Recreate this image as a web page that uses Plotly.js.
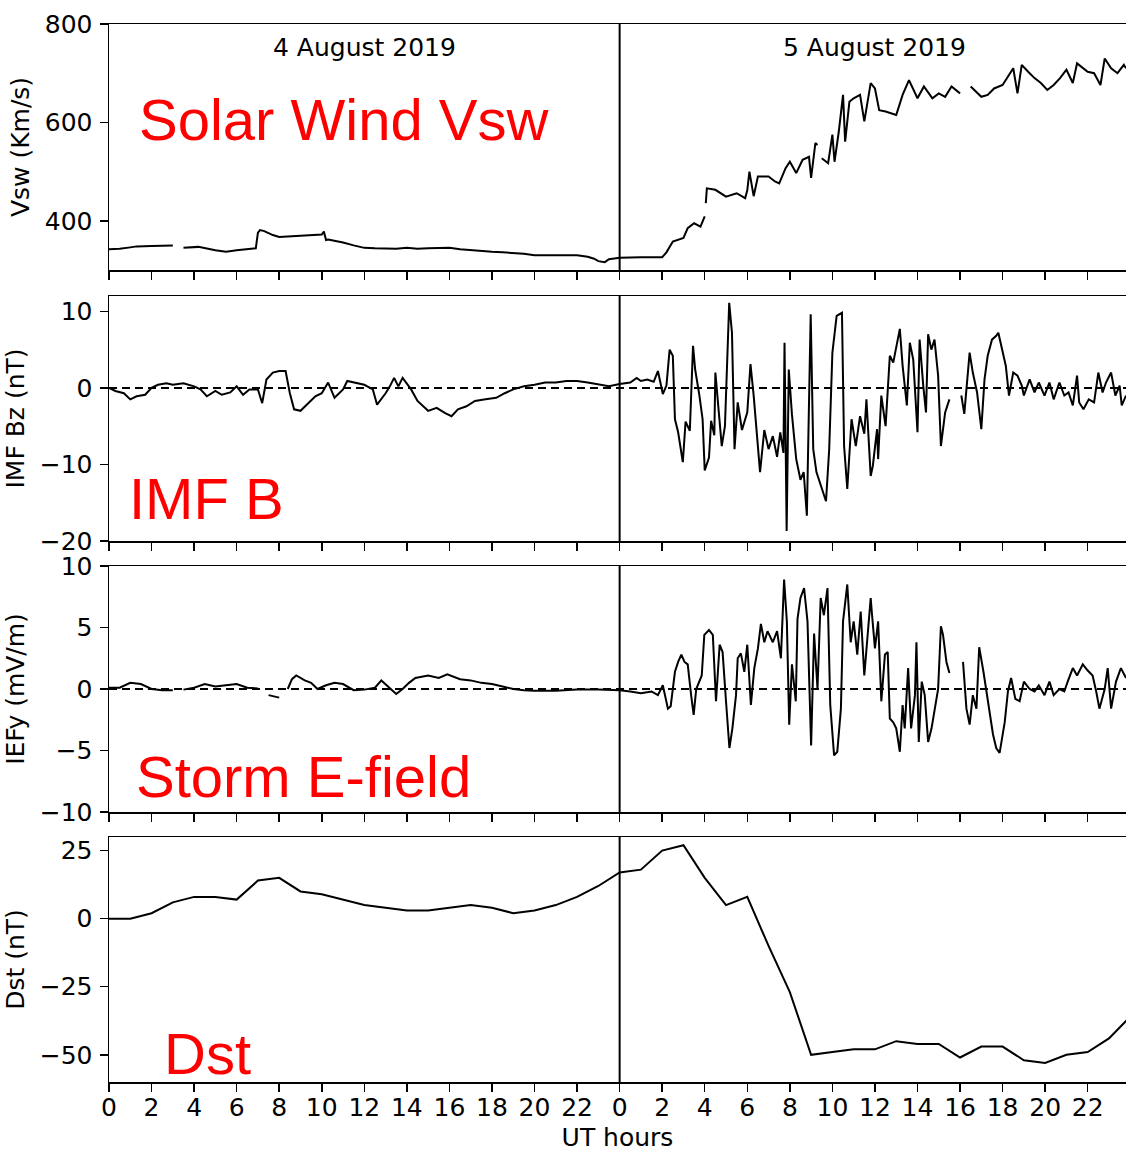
<!DOCTYPE html>
<html>
<head>
<meta charset="utf-8">
<script src="https://cdn.plot.ly/plotly-3.0.1.min.js"></script>
<style>
  html, body { margin: 0; padding: 0; background: #fff; }
  #chart { width: 1126px; height: 1152px; }
</style>
</head>
<body>
<div id="chart"></div>
<script>
// ---------------- DATA (hours since 4 Aug 2019 00 UT) ----------------
const hourTickValues = [0,2,4,6,8,10,12,14,16,18,20,22,24,26,28,30,32,34,36,38,40,42,44,46];
const hourTickLabels = ["0","2","4","6","8","10","12","14","16","18","20","22","0","2","4","6","8","10","12","14","16","18","20","22"];
const dayBoundary = 24;
const dayLabels = ["4 August 2019", "5 August 2019"];
const dayLabelHours = [12, 36];

// Solar wind speed (km/s)
const vswTime = [
  0,0.5,1.0,1.3,2.0,2.5,3.0,3.2,3.5,4.2,5.0,5.5,6.0,6.5,6.9,7.0,7.1,7.3,7.7,8.0,8.5,9.0,9.5,10.0,10.1,10.2,10.3,11.0,11.5,12.0,12.5,13.0,13.5,14.0,14.5,15.0,15.5,16.0,16.5,17.0,17.5,18.0,18.5,19.0,19.5,20.0,21.0,22.0,22.5,22.8,23.0,23.3,23.5,24.0,
  25.0,26.0,26.2,26.5,27.0,27.2,27.5,27.8,28.0,28.02,28.05,28.1,28.5,29.0,29.5,29.9,30.0,30.1,30.3,30.5,31.0,31.3,31.5,31.8,32.0,32.3,32.6,32.9,33.0,33.2,33.3,33.4,33.5,33.8,34.0,34.1,34.3,34.5,34.6,34.8,35.0,35.3,35.5,35.8,36.0,36.2,36.5,37.0,37.3,37.6,38.0,38.3,38.7,39.0,39.3,39.6,40.0,40.2,40.5,41.0,41.3,41.6,42.0,42.3,42.5,42.7,42.9,43.2,43.5,43.8,44.1,44.4,44.7,45.0,45.3,45.5,45.8,46.0,46.3,46.6,46.8,47.1,47.4,47.7,47.8
];
const vswValues = [
  342,343,346,348,349,350,350,null,345,347,340,337,340,342,344,376,381,379,371,367,368,369,370,372,378,361,362,356,350,345,344,344,343,345,343,344,344,345,342,340,338,337,336,335,333,330,330,330,327,323,318,316,322,325,
  326,326,336,358,365,385,395,388,409,null,436,466,463,449,456,446,462,500,450,490,490,480,476,507,520,497,524,530,487,558,554,null,527,517,575,520,581,656,561,642,649,656,602,680,669,625,622,615,656,686,649,673,649,659,652,673,659,null,673,652,656,669,676,696,710,659,717,703,690,680,666,676,690,707,680,720,710,703,700,676,730,710,700,717,710
];

// IMF Bz (nT)
const bzTime = [
  0,0.3,0.7,1.0,1.3,1.7,2.0,2.3,2.7,3.0,3.5,4.0,4.3,4.6,5.0,5.3,5.7,6.0,6.3,6.6,7.0,7.2,7.4,7.7,8.0,8.3,8.5,8.7,9.0,9.3,9.7,10.0,10.3,10.6,11.0,11.2,11.6,12.0,12.4,12.6,13.0,13.2,13.4,13.6,13.8,14.2,14.5,15.0,15.4,15.8,16.1,16.4,16.8,17.2,17.7,18.2,18.6,19.0,19.5,20.0,20.5,21.0,21.5,22.0,22.5,23.0,23.5,24.0,
  24.5,24.8,25.0,25.3,25.6,25.8,26.03,26.2,26.35,26.5,26.6,26.75,26.97,27.1,27.3,27.45,27.55,27.75,27.9,28.0,28.2,28.3,28.45,28.5,28.65,28.8,28.95,29.15,29.28,29.4,29.55,29.75,30.0,30.15,30.3,30.45,30.6,30.8,31.0,31.2,31.4,31.55,31.7,31.75,31.85,31.95,32.1,32.3,32.5,32.65,32.8,32.98,33.1,33.25,33.5,33.7,33.85,34.0,34.2,34.45,34.55,34.7,34.9,35.1,35.3,35.5,35.6,35.8,35.9,36.1,36.15,36.3,36.5,36.7,36.86,37.0,37.17,37.3,37.5,37.64,37.8,38.0,38.1,38.27,38.4,38.5,38.65,38.8,38.97,39.1,39.3,39.5,39.8,40.06,40.2,40.45,40.6,40.8,41.0,41.15,41.3,41.5,41.7,41.8,42.0,42.15,42.3,42.5,42.7,42.9,43.0,43.27,43.5,43.7,43.97,44.2,44.4,44.67,44.9,45.1,45.3,45.5,45.6,45.8,46.05,46.3,46.5,46.7,46.86,47.1,47.3,47.5,47.6,47.8
];
const bzValues = [
  0,-0.4,-0.7,-1.5,-1.1,-0.9,0,0.4,0.6,0.4,0.6,0.2,-0.2,-1.1,-0.4,-0.9,-0.6,0.2,-0.9,-0.2,-0.2,-2.0,1.1,2.0,2.2,2.2,-0.7,-2.8,-3.0,-2.2,-1.1,-0.7,0.7,-1.3,-0.2,0.9,0.7,0.4,-0.2,-2.2,-0.7,0.2,1.3,0.2,1.3,-0.2,-1.7,-3.0,-2.6,-3.3,-3.7,-2.8,-2.4,-1.7,-1.5,-1.3,-0.7,-0.2,0.2,0.4,0.7,0.7,0.9,0.9,0.7,0.4,0.2,0.5,
  0.7,1.3,0.9,1.1,0.8,2.2,-0.8,0.3,5.0,4.2,-4.1,-5.8,-9.7,-4.4,-5.6,5.5,2.4,-1.0,-4.1,-10.8,-9.1,-4.3,-6.2,2.0,-3.2,-7.6,-5.0,11.1,7.2,-8.0,-1.9,-5.5,-3.2,3.1,-1.0,-5.5,-11.0,-5.5,-8.0,-6.3,-9.0,-5.8,-8.5,5.9,-18.7,2.4,-3.5,-9.3,-12.0,-11.0,-16.7,9.6,-8.0,-11.0,-13.0,-14.8,-8.0,4.6,9.4,9.8,-7.6,-13.2,-4.1,-7.6,-3.7,-6.0,-1.5,-11.5,-10.2,-5.4,-9.3,-1.0,-5.0,4.2,3.3,5.5,7.7,2.9,-2.3,5.9,3.7,-5.8,6.3,0.3,-3.2,7.0,5.0,6.3,1.6,-7.6,-3.2,-1.5,null,-1.0,-3.4,4.6,2.0,-0.6,-5.4,1.1,4.2,6.3,6.8,7.2,4.6,2.9,-1.0,2.0,1.6,0.3,-1.0,1.1,-0.6,0.7,-1.0,0.7,-1.5,0.7,-1.0,-0.6,-2.3,1.6,-1.9,-2.8,-1.5,-1.9,2.0,-0.6,0.7,2.0,-1.0,0.3,-2.3,-1.0
];

// Interplanetary electric field Ey (mV/m)
const eyTime = [
  0,0.5,1.0,1.5,2.0,2.5,3.0,3.2,3.5,4.0,4.5,5.0,5.5,6.0,6.5,7.0,7.3,7.5,8.0,8.1,8.4,8.6,8.8,9.2,9.5,9.8,10.2,10.6,11.0,11.5,12.0,12.5,12.8,13.0,13.3,13.5,13.8,14.1,14.4,15.0,15.5,15.9,16.5,17.0,17.5,18.0,18.5,19.0,19.5,20.0,21.0,22.0,23.0,24.0,
  24.5,25.0,25.5,25.8,26.03,26.27,26.4,26.6,26.75,26.9,27.05,27.2,27.36,27.48,27.6,27.75,27.86,27.98,28.2,28.38,28.53,28.7,28.84,29.0,29.16,29.3,29.47,29.55,29.7,29.86,30.0,30.17,30.33,30.5,30.64,30.8,30.95,31.2,31.4,31.58,31.73,31.86,31.97,32.1,32.28,32.36,32.5,32.67,32.83,33.0,33.14,33.3,33.45,33.6,33.77,33.9,34.08,34.23,34.4,34.5,34.7,34.86,35.0,35.17,35.33,35.5,35.64,35.8,35.85,36.0,36.15,36.3,36.47,36.6,36.7,36.86,37.0,37.17,37.3,37.4,37.56,37.7,37.88,37.95,38.06,38.2,38.34,38.5,38.66,38.8,38.97,39.1,39.2,39.36,39.5,39.8,40.14,40.3,40.45,40.6,40.77,40.9,41.1,41.23,41.4,41.55,41.7,41.86,42.1,42.25,42.4,42.6,42.8,43.0,43.27,43.5,43.7,43.97,44.2,44.4,44.67,44.9,45.06,45.3,45.5,45.77,46.0,46.23,46.4,46.55,46.8,46.94,47.1,47.33,47.56,47.8
];
const eyValues = [
  0.1,0.1,0.5,0.4,0,-0.1,-0.1,null,-0.05,0.1,0.4,0.2,0.3,0.4,0.1,0.05,null,-0.5,-0.7,null,0,0.8,1.1,0.7,0.5,0,0.3,0.5,0.4,-0.1,-0.05,0.1,0.7,0.4,-0.1,-0.4,0,0.5,0.9,1.1,0.9,1.2,0.8,0.7,0.5,0.4,0.2,0,-0.1,-0.15,-0.15,-0.05,-0.05,-0.1,
  -0.2,-0.35,-0.2,-0.5,0.3,-1.6,-1.4,1.4,2.2,2.8,2.2,2.0,-0.5,-2.1,0,0.6,1.1,4.4,4.8,4.4,-1.0,3.6,3.0,-1.0,-4.8,-3.2,-0.5,2.5,2.9,1.4,3.6,-1.3,1.7,3.3,5.3,3.8,4.7,3.8,4.7,2.5,8.9,5.5,-2.9,2.0,-1.0,5.7,7.4,8.2,5.5,-4.6,4.5,0,7.4,6.0,8.2,-1.3,-5.4,-5.1,-1.6,5.5,8.5,3.8,5.5,2.8,6.3,1.1,3.8,7.4,6.3,3.3,5.5,-1.0,2.8,3.0,-2.4,-2.7,-3.2,-5.1,-1.3,-3.2,1.7,-3.2,-0.5,3.8,-4.3,0.6,-0.5,-4.3,-3.2,-1.6,0,5.1,4.4,2.2,1.3,null,2.2,-1.6,-2.9,-0.5,-1.6,3.4,1.4,0,-2.1,-3.7,-4.8,-5.2,-2.7,-0.2,0.9,-0.8,-1.0,0.6,0,-0.2,0.3,-0.5,0.6,-0.5,0,-0.2,0.6,1.7,1.1,2.0,1.5,1.1,-0.2,-1.6,0,1.7,-1.6,0.6,1.7,0.9
];

// Dst index (nT), hourly
const dstTime = [0,1,2,3,4,5,6,7,8,9,10,11,12,13,14,15,16,17,18,19,20,21,22,23,24,25,26,27,28,29,30,31,32,33,34,35,36,37,38,39,40,41,42,43,44,45,46,47,48];
const dstValues = [0,0,2,6,8,8,7,14,15,10,9,7,5,4,3,3,4,5,4,2,3,5,8,12,17,18,25,27,15,5,8,-10,-27,-50,-49,-48,-48,-45,-46,-46,-51,-47,-47,-52,-53,-50,-49,-44,-36];

// Panel labels
const panelLabels = ["Solar Wind Vsw", "IMF B", "Storm E-field", "Dst"];
const yTitles = ["Vsw (Km/s)", "IMF Bz (nT)", "IEFy (mV/m)", "Dst (nT)"];
const xTitle = "UT hours";

// ---------------- LAYOUT ----------------
const W = 1126, H = 1152;
const ML = 109, MR = 0, MT = 0, MB = 0;
const py = p => 1 - p / H;                    // pixel row -> paper y
const px = p => (p - ML) / (W - ML - MR);     // pixel col -> paper x

const panels = [
  {top: 24,  bottom: 270, range: [300, 800], ticks: [400, 600, 800], zero: false},
  {top: 296, bottom: 541, range: [-20, 12],  ticks: [-20, -10, 0, 10], zero: true},
  {top: 566, bottom: 812, range: [-10, 10],  ticks: [-10, -5, 0, 5, 10], zero: true},
  {top: 837, bottom: 1082, range: [-60, 30], ticks: [-50, -25, 0, 25], zero: false}
];
const labelCenters = [119, 498, 776, 1053];
const labelLefts = [137, 127, 134, 162];

const FONT = "DejaVu Sans, Verdana, sans-serif";
const tickFont = {family: FONT, size: 25, color: "#000"};

const series = [[vswTime, vswValues], [bzTime, bzValues], [eyTime, eyValues], [dstTime, dstValues]];

const data = series.map((s, i) => ({
  x: s[0], y: s[1],
  type: "scatter", mode: "lines",
  connectgaps: false,
  line: {color: "#000", width: 2},
  xaxis: i === 0 ? "x" : "x" + (i + 1),
  yaxis: i === 0 ? "y" : "y" + (i + 1),
  hoverinfo: "skip",
  showlegend: false
}));

const layout = {
  width: W, height: H,
  margin: {l: ML, r: MR, t: MT, b: MB, pad: 0},
  paper_bgcolor: "#fff", plot_bgcolor: "#fff",
  font: {family: FONT, size: 25, color: "#000"},
  showlegend: false,
  shapes: [],
  annotations: []
};

panels.forEach((p, i) => {
  const k = i === 0 ? "" : String(i + 1);
  const isBottom = i === panels.length - 1;
  layout["xaxis" + k] = {
    domain: [0, 1],
    anchor: "y" + k,
    range: [0, 47.8],
    tickvals: hourTickValues,
    ticktext: hourTickLabels,
    showticklabels: isBottom,
    ticks: "outside", ticklen: 8, tickwidth: 1.5, tickcolor: "#000",
    showline: true, linecolor: "#000", linewidth: 1.5, mirror: true,
    showgrid: false, zeroline: false,
    tickfont: tickFont,
    ticklabelstandoff: -6,
    fixedrange: true,
    title: isBottom ? {text: xTitle, font: {family: FONT, size: 25, color: "#000"}, standoff: 14} : {text: ""}
  };
  layout["yaxis" + k] = {
    domain: [py(p.bottom), py(p.top)],
    anchor: "x" + k,
    range: p.range,
    tickvals: p.ticks,
    ticks: "outside", ticklen: 8, tickwidth: 1.5, tickcolor: "#000",
    showline: true, linecolor: "#000", linewidth: 1.5, mirror: false,
    showgrid: false, zeroline: false,
    tickfont: tickFont,
    ticklabelstandoff: 2,
    fixedrange: true,
    title: {text: yTitles[i], font: {family: FONT, size: 25, color: "#000"}, standoff: 8}
  };
  // midnight separator
  layout.shapes.push({
    type: "line", xref: "x" + k, yref: "y" + k + " domain",
    x0: dayBoundary, x1: dayBoundary, y0: 0, y1: 1,
    line: {color: "#000", width: 2}
  });
  if (p.zero) {
    layout.shapes.push({
      type: "line", xref: "x" + k + " domain", yref: "y" + k,
      x0: 0, x1: 1, y0: 0, y1: 0,
      line: {color: "#000", width: 2, dash: "8px,5px"}
    });
  }
  layout.annotations.push({
    xref: "paper", yref: "paper",
    x: px(labelLefts[i]), y: py(labelCenters[i]),
    xanchor: "left", yanchor: "middle",
    text: panelLabels[i], showarrow: false,
    font: {family: "Liberation Sans, Arial, Helvetica, sans-serif", size: 58, color: "#ff0000"}
  });
});

dayLabels.forEach((t, i) => {
  layout.annotations.push({
    xref: "x", yref: "paper",
    x: dayLabelHours[i], y: py(47),
    xanchor: "center", yanchor: "middle",
    text: t, showarrow: false,
    font: {family: FONT, size: 25, color: "#000"}
  });
});

Plotly.newPlot("chart", data, layout, {staticPlot: true, displayModeBar: false});
</script>
</body>
</html>
